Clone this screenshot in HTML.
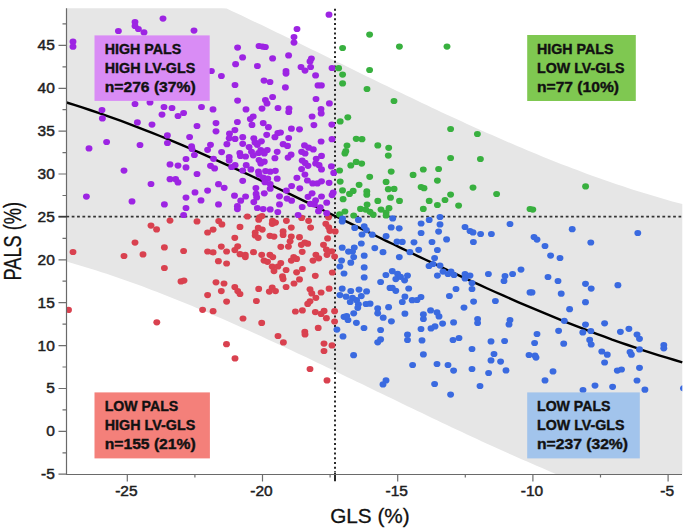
<!DOCTYPE html>
<html><head><meta charset="utf-8"><style>
html,body{margin:0;padding:0;background:#fff;}
svg{display:block;}
text{font-family:"Liberation Sans",sans-serif;}
</style></head><body>
<svg width="685" height="530" viewBox="0 0 685 530">
<defs><clipPath id="pa"><rect x="66.5" y="8.2" width="615.8" height="466.3"/></clipPath></defs>
<rect width="685" height="530" fill="#fff"/>
<polygon points="66.5,8.2 71.5,8.2 76.5,8.2 81.5,8.2 86.5,8.2 91.5,8.2 96.5,8.2 101.5,8.2 106.6,8.2 111.6,8.2 116.6,8.2 121.6,8.2 126.6,8.2 131.6,8.2 136.6,8.2 141.6,8.2 146.6,8.2 151.6,8.2 156.6,8.2 161.6,8.2 166.6,8.2 171.6,8.2 176.6,8.2 181.6,8.2 186.7,8.2 191.7,8.2 196.7,8.2 201.7,8.2 206.7,8.2 211.7,8.2 216.7,8.2 221.7,8.2 226.7,8.6 231.7,10.9 236.7,13.3 241.7,15.6 246.7,18.0 251.7,20.4 256.7,22.8 261.8,25.1 266.8,27.5 271.8,29.9 276.8,32.4 281.8,34.8 286.8,37.2 291.8,39.6 296.8,42.1 301.8,44.5 306.8,47.0 311.8,49.4 316.8,51.8 321.8,54.3 326.8,56.7 331.8,59.2 336.9,61.7 341.9,64.1 346.9,66.6 351.9,69.0 356.9,71.5 361.9,73.9 366.9,76.4 371.9,78.8 376.9,81.2 381.9,83.7 386.9,86.1 391.9,88.5 396.9,90.9 401.9,93.3 406.9,95.8 411.9,98.1 417.0,100.5 422.0,102.9 427.0,105.3 432.0,107.7 437.0,110.0 442.0,112.4 447.0,114.7 452.0,117.0 457.0,119.3 462.0,121.6 467.0,123.9 472.0,126.2 477.0,128.4 482.0,130.7 487.0,132.9 492.1,135.1 497.1,137.3 502.1,139.5 507.1,141.7 512.1,143.8 517.1,146.0 522.1,148.1 527.1,150.2 532.1,152.3 537.1,154.3 542.1,156.4 547.1,158.4 552.1,160.4 557.1,162.4 562.1,164.4 567.2,166.3 572.2,168.2 577.2,170.1 582.2,172.0 587.2,173.9 592.2,175.7 597.2,177.5 602.2,179.3 607.2,181.0 612.2,182.8 617.2,184.5 622.2,186.1 627.2,187.8 632.2,189.4 637.2,191.0 642.2,192.6 647.3,194.1 652.3,195.6 657.3,197.1 662.3,198.6 667.3,200.0 672.3,201.4 677.3,202.8 682.3,204.1 682.3,474.5 677.3,474.5 672.3,474.5 667.3,474.5 662.3,474.5 657.3,474.5 652.3,474.5 647.3,474.5 642.2,474.5 637.2,474.5 632.2,474.5 627.2,474.5 622.2,474.5 617.2,474.5 612.2,474.5 607.2,474.5 602.2,474.5 597.2,474.5 592.2,474.5 587.2,474.5 582.2,474.5 577.2,474.5 572.2,474.5 567.2,474.5 562.1,474.5 557.1,474.5 552.1,472.4 547.1,470.3 542.1,468.1 537.1,466.0 532.1,463.8 527.1,461.6 522.1,459.4 517.1,457.2 512.1,455.0 507.1,452.8 502.1,450.5 497.1,448.3 492.1,446.0 487.0,443.7 482.0,441.4 477.0,439.1 472.0,436.8 467.0,434.4 462.0,432.1 457.0,429.7 452.0,427.4 447.0,425.0 442.0,422.7 437.0,420.3 432.0,417.9 427.0,415.5 422.0,413.1 417.0,410.7 411.9,408.3 406.9,405.9 401.9,403.5 396.9,401.1 391.9,398.6 386.9,396.2 381.9,393.8 376.9,391.4 371.9,389.0 366.9,386.5 361.9,384.1 356.9,381.7 351.9,379.3 346.9,376.9 341.9,374.4 336.9,372.0 331.8,369.6 326.8,367.2 321.8,364.8 316.8,362.4 311.8,360.0 306.8,357.6 301.8,355.3 296.8,352.9 291.8,350.5 286.8,348.2 281.8,345.8 276.8,343.5 271.8,341.2 266.8,338.9 261.8,336.6 256.7,334.3 251.7,332.0 246.7,329.7 241.7,327.5 236.7,325.2 231.7,323.0 226.7,320.8 221.7,318.6 216.7,316.4 211.7,314.3 206.7,312.1 201.7,310.0 196.7,307.9 191.7,305.8 186.7,303.7 181.6,301.7 176.6,299.7 171.6,297.7 166.6,295.7 161.6,293.7 156.6,291.8 151.6,289.9 146.6,288.0 141.6,286.1 136.6,284.3 131.6,282.5 126.6,280.7 121.6,278.9 116.6,277.2 111.6,275.5 106.6,273.8 101.5,272.2 96.5,270.6 91.5,269.0 86.5,267.4 81.5,265.9 76.5,264.4 71.5,263.0 66.5,261.6" fill="#e6e6e6"/>
<path d="M71.7 216.6H682" stroke="#333" stroke-width="1.6" stroke-dasharray="2.75 2.62"/>
<path d="M335 8.8V472" stroke="#2a2a2a" stroke-width="2" stroke-dasharray="2 2.72"/><path d="M335 472.5V481.3" stroke="#2a2a2a" stroke-width="2"/>
<polyline points="66.5,102.5 74.3,104.9 82.1,107.4 89.9,110.0 97.7,112.6 105.5,115.3 113.3,118.1 121.1,120.9 128.9,123.8 136.7,126.8 144.4,129.8 152.2,132.9 160.0,136.0 167.8,139.2 175.6,142.4 183.4,145.7 191.2,149.0 199.0,152.4 206.8,155.8 214.6,159.3 222.4,162.8 230.2,166.3 238.0,169.8 245.8,173.4 253.6,177.0 261.4,180.7 269.2,184.3 277.0,188.0 284.8,191.7 292.6,195.4 300.3,199.2 308.1,202.9 315.9,206.7 323.7,210.5 331.5,214.3 339.3,218.0 347.1,221.8 354.9,225.6 362.7,229.4 370.5,233.2 378.3,237.0 386.1,240.8 393.9,244.5 401.7,248.3 409.5,252.0 417.3,255.8 425.1,259.5 432.9,263.2 440.7,266.9 448.5,270.5 456.2,274.2 464.0,277.8 471.8,281.4 479.6,284.9 487.4,288.5 495.2,292.0 503.0,295.4 510.8,298.9 518.6,302.3 526.4,305.6 534.2,308.9 542.0,312.2 549.8,315.4 557.6,318.6 565.4,321.8 573.2,324.9 581.0,327.9 588.8,330.9 596.6,333.8 604.4,336.7 612.1,339.6 619.9,342.3 627.7,345.0 635.5,347.7 643.3,350.3 651.1,352.8 658.9,355.3 666.7,357.7 674.5,360.0 682.3,362.3" fill="none" stroke="#000" stroke-width="2.4"/>
<g clip-path="url(#pa)">
<g fill="#d9414f"><ellipse cx="247.4" cy="216.5" rx="3.45" ry="3.1"/><ellipse cx="259.6" cy="217.3" rx="3.45" ry="3.1"/><ellipse cx="262.0" cy="216.1" rx="3.45" ry="3.1"/><ellipse cx="218.7" cy="221.0" rx="3.45" ry="3.1"/><ellipse cx="272.5" cy="220.8" rx="3.45" ry="3.1"/><ellipse cx="301.6" cy="217.9" rx="3.45" ry="3.1"/><ellipse cx="328.5" cy="217.3" rx="3.45" ry="3.1"/><ellipse cx="286.4" cy="220.8" rx="3.45" ry="3.1"/><ellipse cx="308.6" cy="220.8" rx="3.45" ry="3.1"/><ellipse cx="170.0" cy="220.6" rx="3.45" ry="3.1"/><ellipse cx="197.0" cy="221.4" rx="3.45" ry="3.1"/><ellipse cx="151.0" cy="225.6" rx="3.45" ry="3.1"/><ellipse cx="156.6" cy="229.4" rx="3.45" ry="3.1"/><ellipse cx="135.0" cy="242.6" rx="3.45" ry="3.1"/><ellipse cx="164.4" cy="247.4" rx="3.45" ry="3.1"/><ellipse cx="183.6" cy="251.0" rx="3.45" ry="3.1"/><ellipse cx="73.0" cy="252.0" rx="3.45" ry="3.1"/><ellipse cx="124.0" cy="256.0" rx="3.45" ry="3.1"/><ellipse cx="143.0" cy="254.4" rx="3.45" ry="3.1"/><ellipse cx="164.4" cy="268.0" rx="3.45" ry="3.1"/><ellipse cx="181.0" cy="281.4" rx="3.45" ry="3.1"/><ellipse cx="184.0" cy="280.6" rx="3.45" ry="3.1"/><ellipse cx="258.7" cy="219.7" rx="3.45" ry="3.1"/><ellipse cx="221.9" cy="224.4" rx="3.45" ry="3.1"/><ellipse cx="213.1" cy="229.6" rx="3.45" ry="3.1"/><ellipse cx="207.6" cy="232.5" rx="3.45" ry="3.1"/><ellipse cx="240.0" cy="226.9" rx="3.45" ry="3.1"/><ellipse cx="258.2" cy="227.9" rx="3.45" ry="3.1"/><ellipse cx="262.3" cy="229.6" rx="3.45" ry="3.1"/><ellipse cx="255.2" cy="232.5" rx="3.45" ry="3.1"/><ellipse cx="255.2" cy="235.5" rx="3.45" ry="3.1"/><ellipse cx="258.2" cy="237.8" rx="3.45" ry="3.1"/><ellipse cx="272.2" cy="223.8" rx="3.45" ry="3.1"/><ellipse cx="269.9" cy="235.8" rx="3.45" ry="3.1"/><ellipse cx="274.0" cy="236.6" rx="3.45" ry="3.1"/><ellipse cx="234.8" cy="237.8" rx="3.45" ry="3.1"/><ellipse cx="221.3" cy="246.6" rx="3.45" ry="3.1"/><ellipse cx="237.7" cy="246.3" rx="3.45" ry="3.1"/><ellipse cx="234.8" cy="250.1" rx="3.45" ry="3.1"/><ellipse cx="207.6" cy="251.5" rx="3.45" ry="3.1"/><ellipse cx="213.1" cy="252.4" rx="3.45" ry="3.1"/><ellipse cx="226.6" cy="251.5" rx="3.45" ry="3.1"/><ellipse cx="240.0" cy="254.2" rx="3.45" ry="3.1"/><ellipse cx="245.3" cy="254.8" rx="3.45" ry="3.1"/><ellipse cx="245.3" cy="257.1" rx="3.45" ry="3.1"/><ellipse cx="253.5" cy="252.2" rx="3.45" ry="3.1"/><ellipse cx="261.7" cy="254.8" rx="3.45" ry="3.1"/><ellipse cx="269.9" cy="254.8" rx="3.45" ry="3.1"/><ellipse cx="272.8" cy="257.1" rx="3.45" ry="3.1"/><ellipse cx="264.0" cy="260.6" rx="3.45" ry="3.1"/><ellipse cx="267.5" cy="261.8" rx="3.45" ry="3.1"/><ellipse cx="218.4" cy="261.2" rx="3.45" ry="3.1"/><ellipse cx="226.6" cy="263.5" rx="3.45" ry="3.1"/><ellipse cx="272.2" cy="266.5" rx="3.45" ry="3.1"/><ellipse cx="274.0" cy="271.1" rx="3.45" ry="3.1"/><ellipse cx="275.5" cy="222.6" rx="3.45" ry="3.1"/><ellipse cx="310.6" cy="227.6" rx="3.45" ry="3.1"/><ellipse cx="291.3" cy="227.6" rx="3.45" ry="3.1"/><ellipse cx="283.1" cy="231.4" rx="3.45" ry="3.1"/><ellipse cx="283.1" cy="234.9" rx="3.45" ry="3.1"/><ellipse cx="291.3" cy="236.6" rx="3.45" ry="3.1"/><ellipse cx="299.5" cy="237.2" rx="3.45" ry="3.1"/><ellipse cx="290.1" cy="241.3" rx="3.45" ry="3.1"/><ellipse cx="288.4" cy="246.6" rx="3.45" ry="3.1"/><ellipse cx="280.8" cy="246.8" rx="3.45" ry="3.1"/><ellipse cx="301.3" cy="244.8" rx="3.45" ry="3.1"/><ellipse cx="304.8" cy="242.5" rx="3.45" ry="3.1"/><ellipse cx="307.7" cy="243.7" rx="3.45" ry="3.1"/><ellipse cx="325.8" cy="223.8" rx="3.45" ry="3.1"/><ellipse cx="328.7" cy="227.3" rx="3.45" ry="3.1"/><ellipse cx="329.9" cy="230.8" rx="3.45" ry="3.1"/><ellipse cx="335.2" cy="231.4" rx="3.45" ry="3.1"/><ellipse cx="327.6" cy="238.4" rx="3.45" ry="3.1"/><ellipse cx="323.5" cy="244.8" rx="3.45" ry="3.1"/><ellipse cx="326.4" cy="249.5" rx="3.45" ry="3.1"/><ellipse cx="331.7" cy="251.3" rx="3.45" ry="3.1"/><ellipse cx="327.0" cy="254.8" rx="3.45" ry="3.1"/><ellipse cx="334.6" cy="256.5" rx="3.45" ry="3.1"/><ellipse cx="302.2" cy="251.8" rx="3.45" ry="3.1"/><ellipse cx="315.9" cy="254.8" rx="3.45" ry="3.1"/><ellipse cx="318.8" cy="258.3" rx="3.45" ry="3.1"/><ellipse cx="313.0" cy="260.6" rx="3.45" ry="3.1"/><ellipse cx="293.7" cy="257.1" rx="3.45" ry="3.1"/><ellipse cx="296.6" cy="258.9" rx="3.45" ry="3.1"/><ellipse cx="291.3" cy="260.6" rx="3.45" ry="3.1"/><ellipse cx="280.8" cy="263.0" rx="3.45" ry="3.1"/><ellipse cx="277.9" cy="266.5" rx="3.45" ry="3.1"/><ellipse cx="286.1" cy="270.0" rx="3.45" ry="3.1"/><ellipse cx="296.6" cy="272.3" rx="3.45" ry="3.1"/><ellipse cx="302.4" cy="269.0" rx="3.45" ry="3.1"/><ellipse cx="332.3" cy="272.5" rx="3.45" ry="3.1"/><ellipse cx="315.3" cy="275.8" rx="3.45" ry="3.1"/><ellipse cx="282.5" cy="276.4" rx="3.45" ry="3.1"/><ellipse cx="216.0" cy="282.3" rx="3.45" ry="3.1"/><ellipse cx="224.0" cy="283.5" rx="3.45" ry="3.1"/><ellipse cx="221.3" cy="291.1" rx="3.45" ry="3.1"/><ellipse cx="234.8" cy="287.0" rx="3.45" ry="3.1"/><ellipse cx="237.7" cy="291.1" rx="3.45" ry="3.1"/><ellipse cx="240.0" cy="294.0" rx="3.45" ry="3.1"/><ellipse cx="207.6" cy="295.1" rx="3.45" ry="3.1"/><ellipse cx="226.6" cy="301.6" rx="3.45" ry="3.1"/><ellipse cx="258.7" cy="288.9" rx="3.45" ry="3.1"/><ellipse cx="256.4" cy="301.0" rx="3.45" ry="3.1"/><ellipse cx="272.2" cy="287.5" rx="3.45" ry="3.1"/><ellipse cx="269.3" cy="291.6" rx="3.45" ry="3.1"/><ellipse cx="202.6" cy="309.8" rx="3.45" ry="3.1"/><ellipse cx="213.1" cy="311.2" rx="3.45" ry="3.1"/><ellipse cx="243.0" cy="318.5" rx="3.45" ry="3.1"/><ellipse cx="261.7" cy="322.9" rx="3.45" ry="3.1"/><ellipse cx="283.1" cy="279.1" rx="3.45" ry="3.1"/><ellipse cx="299.5" cy="279.4" rx="3.45" ry="3.1"/><ellipse cx="294.0" cy="283.5" rx="3.45" ry="3.1"/><ellipse cx="286.1" cy="287.0" rx="3.45" ry="3.1"/><ellipse cx="275.5" cy="291.1" rx="3.45" ry="3.1"/><ellipse cx="310.0" cy="289.3" rx="3.45" ry="3.1"/><ellipse cx="311.8" cy="293.4" rx="3.45" ry="3.1"/><ellipse cx="321.1" cy="292.5" rx="3.45" ry="3.1"/><ellipse cx="329.1" cy="288.7" rx="3.45" ry="3.1"/><ellipse cx="315.9" cy="297.8" rx="3.45" ry="3.1"/><ellipse cx="310.0" cy="301.3" rx="3.45" ry="3.1"/><ellipse cx="307.7" cy="303.9" rx="3.45" ry="3.1"/><ellipse cx="295.4" cy="311.5" rx="3.45" ry="3.1"/><ellipse cx="302.4" cy="310.4" rx="3.45" ry="3.1"/><ellipse cx="315.3" cy="312.1" rx="3.45" ry="3.1"/><ellipse cx="321.1" cy="313.9" rx="3.45" ry="3.1"/><ellipse cx="324.1" cy="310.9" rx="3.45" ry="3.1"/><ellipse cx="326.4" cy="318.2" rx="3.45" ry="3.1"/><ellipse cx="334.6" cy="311.2" rx="3.45" ry="3.1"/><ellipse cx="334.6" cy="321.5" rx="3.45" ry="3.1"/><ellipse cx="318.2" cy="327.9" rx="3.45" ry="3.1"/><ellipse cx="304.8" cy="331.8" rx="3.45" ry="3.1"/><ellipse cx="305.0" cy="334.4" rx="3.45" ry="3.1"/><ellipse cx="278.0" cy="336.0" rx="3.45" ry="3.1"/><ellipse cx="283.4" cy="342.4" rx="3.45" ry="3.1"/><ellipse cx="324.0" cy="343.6" rx="3.45" ry="3.1"/><ellipse cx="332.0" cy="345.4" rx="3.45" ry="3.1"/><ellipse cx="324.0" cy="351.0" rx="3.45" ry="3.1"/><ellipse cx="235.0" cy="358.4" rx="3.45" ry="3.1"/><ellipse cx="310.0" cy="369.0" rx="3.45" ry="3.1"/><ellipse cx="327.0" cy="380.4" rx="3.45" ry="3.1"/><ellipse cx="68.5" cy="309.9" rx="3.45" ry="3.1"/><ellipse cx="156.8" cy="322.3" rx="3.45" ry="3.1"/><ellipse cx="226.5" cy="344.2" rx="3.45" ry="3.1"/></g>
<g fill="#9d24e3"><ellipse cx="73.0" cy="41.7" rx="3.45" ry="3.1"/><ellipse cx="73.0" cy="46.7" rx="3.45" ry="3.1"/><ellipse cx="118.4" cy="31.0" rx="3.45" ry="3.1"/><ellipse cx="135.0" cy="22.0" rx="3.45" ry="3.1"/><ellipse cx="135.0" cy="26.0" rx="3.45" ry="3.1"/><ellipse cx="138.4" cy="29.0" rx="3.45" ry="3.1"/><ellipse cx="144.0" cy="32.4" rx="3.45" ry="3.1"/><ellipse cx="163.0" cy="18.6" rx="3.45" ry="3.1"/><ellipse cx="194.0" cy="30.6" rx="3.45" ry="3.1"/><ellipse cx="135.0" cy="104.0" rx="3.45" ry="3.1"/><ellipse cx="150.0" cy="102.4" rx="3.45" ry="3.1"/><ellipse cx="164.0" cy="107.0" rx="3.45" ry="3.1"/><ellipse cx="172.0" cy="108.0" rx="3.45" ry="3.1"/><ellipse cx="102.0" cy="110.0" rx="3.45" ry="3.1"/><ellipse cx="201.5" cy="107.0" rx="3.45" ry="3.1"/><ellipse cx="297.0" cy="29.0" rx="3.45" ry="3.1"/><ellipse cx="294.0" cy="37.0" rx="3.45" ry="3.1"/><ellipse cx="294.0" cy="42.6" rx="3.45" ry="3.1"/><ellipse cx="237.6" cy="47.6" rx="3.45" ry="3.1"/><ellipse cx="259.0" cy="46.0" rx="3.45" ry="3.1"/><ellipse cx="262.6" cy="46.6" rx="3.45" ry="3.1"/><ellipse cx="265.4" cy="47.0" rx="3.45" ry="3.1"/><ellipse cx="242.6" cy="57.4" rx="3.45" ry="3.1"/><ellipse cx="272.6" cy="58.4" rx="3.45" ry="3.1"/><ellipse cx="288.6" cy="55.4" rx="3.45" ry="3.1"/><ellipse cx="311.4" cy="58.6" rx="3.45" ry="3.1"/><ellipse cx="310.0" cy="61.4" rx="3.45" ry="3.1"/><ellipse cx="235.6" cy="64.2" rx="3.45" ry="3.1"/><ellipse cx="257.4" cy="66.0" rx="3.45" ry="3.1"/><ellipse cx="286.0" cy="71.0" rx="3.45" ry="3.1"/><ellipse cx="286.0" cy="73.6" rx="3.45" ry="3.1"/><ellipse cx="301.0" cy="67.0" rx="3.45" ry="3.1"/><ellipse cx="305.0" cy="70.6" rx="3.45" ry="3.1"/><ellipse cx="310.6" cy="67.0" rx="3.45" ry="3.1"/><ellipse cx="315.6" cy="75.4" rx="3.45" ry="3.1"/><ellipse cx="211.4" cy="71.0" rx="3.45" ry="3.1"/><ellipse cx="221.4" cy="76.0" rx="3.45" ry="3.1"/><ellipse cx="235.0" cy="85.0" rx="3.45" ry="3.1"/><ellipse cx="264.0" cy="80.6" rx="3.45" ry="3.1"/><ellipse cx="270.0" cy="82.0" rx="3.45" ry="3.1"/><ellipse cx="285.4" cy="87.4" rx="3.45" ry="3.1"/><ellipse cx="318.0" cy="85.4" rx="3.45" ry="3.1"/><ellipse cx="321.4" cy="85.4" rx="3.45" ry="3.1"/><ellipse cx="237.6" cy="100.6" rx="3.45" ry="3.1"/><ellipse cx="272.6" cy="97.0" rx="3.45" ry="3.1"/><ellipse cx="265.4" cy="100.0" rx="3.45" ry="3.1"/><ellipse cx="267.0" cy="103.4" rx="3.45" ry="3.1"/><ellipse cx="316.0" cy="99.0" rx="3.45" ry="3.1"/><ellipse cx="213.0" cy="109.4" rx="3.45" ry="3.1"/><ellipse cx="246.0" cy="109.4" rx="3.45" ry="3.1"/><ellipse cx="262.0" cy="108.6" rx="3.45" ry="3.1"/><ellipse cx="278.0" cy="108.0" rx="3.45" ry="3.1"/><ellipse cx="289.0" cy="108.6" rx="3.45" ry="3.1"/><ellipse cx="321.0" cy="109.0" rx="3.45" ry="3.1"/><ellipse cx="329.0" cy="14.7" rx="3.45" ry="3.1"/><ellipse cx="332.0" cy="68.0" rx="3.45" ry="3.1"/><ellipse cx="329.4" cy="103.4" rx="3.45" ry="3.1"/><ellipse cx="102.4" cy="118.4" rx="3.45" ry="3.1"/><ellipse cx="162.0" cy="114.6" rx="3.45" ry="3.1"/><ellipse cx="178.0" cy="116.0" rx="3.45" ry="3.1"/><ellipse cx="183.6" cy="113.0" rx="3.45" ry="3.1"/><ellipse cx="137.4" cy="122.4" rx="3.45" ry="3.1"/><ellipse cx="152.0" cy="124.6" rx="3.45" ry="3.1"/><ellipse cx="197.0" cy="126.0" rx="3.45" ry="3.1"/><ellipse cx="167.4" cy="135.4" rx="3.45" ry="3.1"/><ellipse cx="189.6" cy="137.0" rx="3.45" ry="3.1"/><ellipse cx="106.6" cy="142.0" rx="3.45" ry="3.1"/><ellipse cx="89.0" cy="148.4" rx="3.45" ry="3.1"/><ellipse cx="140.0" cy="145.0" rx="3.45" ry="3.1"/><ellipse cx="167.4" cy="143.0" rx="3.45" ry="3.1"/><ellipse cx="191.6" cy="146.4" rx="3.45" ry="3.1"/><ellipse cx="192.0" cy="149.0" rx="3.45" ry="3.1"/><ellipse cx="194.4" cy="155.0" rx="3.45" ry="3.1"/><ellipse cx="186.0" cy="159.0" rx="3.45" ry="3.1"/><ellipse cx="170.0" cy="164.4" rx="3.45" ry="3.1"/><ellipse cx="178.0" cy="165.6" rx="3.45" ry="3.1"/><ellipse cx="186.0" cy="167.4" rx="3.45" ry="3.1"/><ellipse cx="124.0" cy="170.6" rx="3.45" ry="3.1"/><ellipse cx="197.0" cy="174.0" rx="3.45" ry="3.1"/><ellipse cx="170.0" cy="179.2" rx="3.45" ry="3.1"/><ellipse cx="175.6" cy="179.2" rx="3.45" ry="3.1"/><ellipse cx="178.0" cy="182.4" rx="3.45" ry="3.1"/><ellipse cx="151.0" cy="184.0" rx="3.45" ry="3.1"/><ellipse cx="195.0" cy="192.4" rx="3.45" ry="3.1"/><ellipse cx="86.4" cy="196.6" rx="3.45" ry="3.1"/><ellipse cx="186.0" cy="197.6" rx="3.45" ry="3.1"/><ellipse cx="132.0" cy="201.4" rx="3.45" ry="3.1"/><ellipse cx="164.4" cy="204.4" rx="3.45" ry="3.1"/><ellipse cx="201.0" cy="200.4" rx="3.45" ry="3.1"/><ellipse cx="253.2" cy="116.5" rx="3.45" ry="3.1"/><ellipse cx="250.3" cy="119.0" rx="3.45" ry="3.1"/><ellipse cx="252.0" cy="124.9" rx="3.45" ry="3.1"/><ellipse cx="237.4" cy="122.0" rx="3.45" ry="3.1"/><ellipse cx="216.0" cy="123.1" rx="3.45" ry="3.1"/><ellipse cx="216.0" cy="131.3" rx="3.45" ry="3.1"/><ellipse cx="263.2" cy="123.1" rx="3.45" ry="3.1"/><ellipse cx="268.4" cy="127.2" rx="3.45" ry="3.1"/><ellipse cx="266.7" cy="134.8" rx="3.45" ry="3.1"/><ellipse cx="234.9" cy="130.1" rx="3.45" ry="3.1"/><ellipse cx="229.5" cy="133.7" rx="3.45" ry="3.1"/><ellipse cx="229.2" cy="138.3" rx="3.45" ry="3.1"/><ellipse cx="235.1" cy="138.9" rx="3.45" ry="3.1"/><ellipse cx="242.7" cy="137.2" rx="3.45" ry="3.1"/><ellipse cx="242.7" cy="143.8" rx="3.45" ry="3.1"/><ellipse cx="253.8" cy="138.3" rx="3.45" ry="3.1"/><ellipse cx="255.0" cy="142.4" rx="3.45" ry="3.1"/><ellipse cx="257.3" cy="144.8" rx="3.45" ry="3.1"/><ellipse cx="261.4" cy="141.3" rx="3.45" ry="3.1"/><ellipse cx="274.9" cy="137.2" rx="3.45" ry="3.1"/><ellipse cx="277.8" cy="133.1" rx="3.45" ry="3.1"/><ellipse cx="226.9" cy="144.2" rx="3.45" ry="3.1"/><ellipse cx="210.5" cy="144.8" rx="3.45" ry="3.1"/><ellipse cx="207.6" cy="149.8" rx="3.45" ry="3.1"/><ellipse cx="221.6" cy="152.1" rx="3.45" ry="3.1"/><ellipse cx="239.8" cy="153.0" rx="3.45" ry="3.1"/><ellipse cx="240.4" cy="155.9" rx="3.45" ry="3.1"/><ellipse cx="245.6" cy="156.5" rx="3.45" ry="3.1"/><ellipse cx="249.1" cy="147.1" rx="3.45" ry="3.1"/><ellipse cx="251.5" cy="151.8" rx="3.45" ry="3.1"/><ellipse cx="253.2" cy="155.3" rx="3.45" ry="3.1"/><ellipse cx="260.8" cy="150.0" rx="3.45" ry="3.1"/><ellipse cx="267.3" cy="150.0" rx="3.45" ry="3.1"/><ellipse cx="264.3" cy="153.5" rx="3.45" ry="3.1"/><ellipse cx="258.5" cy="153.0" rx="3.45" ry="3.1"/><ellipse cx="277.2" cy="151.8" rx="3.45" ry="3.1"/><ellipse cx="274.9" cy="158.2" rx="3.45" ry="3.1"/><ellipse cx="229.2" cy="157.0" rx="3.45" ry="3.1"/><ellipse cx="229.2" cy="160.6" rx="3.45" ry="3.1"/><ellipse cx="213.5" cy="158.8" rx="3.45" ry="3.1"/><ellipse cx="259.0" cy="160.0" rx="3.45" ry="3.1"/><ellipse cx="264.3" cy="161.7" rx="3.45" ry="3.1"/><ellipse cx="260.8" cy="163.5" rx="3.45" ry="3.1"/><ellipse cx="210.5" cy="165.8" rx="3.45" ry="3.1"/><ellipse cx="235.1" cy="165.2" rx="3.45" ry="3.1"/><ellipse cx="246.2" cy="165.2" rx="3.45" ry="3.1"/><ellipse cx="288.7" cy="112.0" rx="3.45" ry="3.1"/><ellipse cx="321.2" cy="113.4" rx="3.45" ry="3.1"/><ellipse cx="312.1" cy="116.5" rx="3.45" ry="3.1"/><ellipse cx="313.9" cy="125.1" rx="3.45" ry="3.1"/><ellipse cx="331.8" cy="124.6" rx="3.45" ry="3.1"/><ellipse cx="291.4" cy="128.7" rx="3.45" ry="3.1"/><ellipse cx="299.5" cy="129.3" rx="3.45" ry="3.1"/><ellipse cx="280.5" cy="132.5" rx="3.45" ry="3.1"/><ellipse cx="288.7" cy="138.0" rx="3.45" ry="3.1"/><ellipse cx="332.0" cy="139.2" rx="3.45" ry="3.1"/><ellipse cx="321.1" cy="141.5" rx="3.45" ry="3.1"/><ellipse cx="283.1" cy="144.2" rx="3.45" ry="3.1"/><ellipse cx="287.5" cy="145.9" rx="3.45" ry="3.1"/><ellipse cx="291.1" cy="154.7" rx="3.45" ry="3.1"/><ellipse cx="288.1" cy="157.6" rx="3.45" ry="3.1"/><ellipse cx="304.5" cy="145.4" rx="3.45" ry="3.1"/><ellipse cx="308.6" cy="147.7" rx="3.45" ry="3.1"/><ellipse cx="313.3" cy="149.4" rx="3.45" ry="3.1"/><ellipse cx="301.6" cy="151.8" rx="3.45" ry="3.1"/><ellipse cx="305.1" cy="153.5" rx="3.45" ry="3.1"/><ellipse cx="321.5" cy="155.9" rx="3.45" ry="3.1"/><ellipse cx="316.2" cy="158.8" rx="3.45" ry="3.1"/><ellipse cx="302.2" cy="160.6" rx="3.45" ry="3.1"/><ellipse cx="305.1" cy="162.9" rx="3.45" ry="3.1"/><ellipse cx="315.6" cy="163.5" rx="3.45" ry="3.1"/><ellipse cx="319.1" cy="165.2" rx="3.45" ry="3.1"/><ellipse cx="331.4" cy="166.4" rx="3.45" ry="3.1"/><ellipse cx="214.6" cy="168.4" rx="3.45" ry="3.1"/><ellipse cx="231.6" cy="167.0" rx="3.45" ry="3.1"/><ellipse cx="242.7" cy="170.5" rx="3.45" ry="3.1"/><ellipse cx="250.9" cy="169.4" rx="3.45" ry="3.1"/><ellipse cx="258.5" cy="171.7" rx="3.45" ry="3.1"/><ellipse cx="259.0" cy="174.6" rx="3.45" ry="3.1"/><ellipse cx="265.5" cy="171.1" rx="3.45" ry="3.1"/><ellipse cx="270.2" cy="171.7" rx="3.45" ry="3.1"/><ellipse cx="275.4" cy="170.8" rx="3.45" ry="3.1"/><ellipse cx="277.2" cy="178.7" rx="3.45" ry="3.1"/><ellipse cx="263.2" cy="177.5" rx="3.45" ry="3.1"/><ellipse cx="267.8" cy="178.7" rx="3.45" ry="3.1"/><ellipse cx="264.9" cy="182.2" rx="3.45" ry="3.1"/><ellipse cx="270.2" cy="184.0" rx="3.45" ry="3.1"/><ellipse cx="270.2" cy="188.7" rx="3.45" ry="3.1"/><ellipse cx="242.7" cy="180.8" rx="3.45" ry="3.1"/><ellipse cx="218.5" cy="184.2" rx="3.45" ry="3.1"/><ellipse cx="224.2" cy="187.8" rx="3.45" ry="3.1"/><ellipse cx="207.6" cy="190.6" rx="3.45" ry="3.1"/><ellipse cx="255.9" cy="188.1" rx="3.45" ry="3.1"/><ellipse cx="264.3" cy="193.3" rx="3.45" ry="3.1"/><ellipse cx="256.1" cy="193.9" rx="3.45" ry="3.1"/><ellipse cx="256.7" cy="197.4" rx="3.45" ry="3.1"/><ellipse cx="234.5" cy="195.7" rx="3.45" ry="3.1"/><ellipse cx="245.6" cy="196.5" rx="3.45" ry="3.1"/><ellipse cx="240.7" cy="200.7" rx="3.45" ry="3.1"/><ellipse cx="253.8" cy="202.1" rx="3.45" ry="3.1"/><ellipse cx="218.5" cy="204.4" rx="3.45" ry="3.1"/><ellipse cx="237.4" cy="206.2" rx="3.45" ry="3.1"/><ellipse cx="237.4" cy="209.1" rx="3.45" ry="3.1"/><ellipse cx="257.3" cy="208.0" rx="3.45" ry="3.1"/><ellipse cx="263.2" cy="209.1" rx="3.45" ry="3.1"/><ellipse cx="270.2" cy="209.4" rx="3.45" ry="3.1"/><ellipse cx="277.8" cy="212.0" rx="3.45" ry="3.1"/><ellipse cx="279.5" cy="196.3" rx="3.45" ry="3.1"/><ellipse cx="279.5" cy="204.4" rx="3.45" ry="3.1"/><ellipse cx="308.0" cy="165.8" rx="3.45" ry="3.1"/><ellipse cx="301.6" cy="169.1" rx="3.45" ry="3.1"/><ellipse cx="321.5" cy="169.4" rx="3.45" ry="3.1"/><ellipse cx="333.7" cy="172.9" rx="3.45" ry="3.1"/><ellipse cx="296.9" cy="177.8" rx="3.45" ry="3.1"/><ellipse cx="304.9" cy="174.6" rx="3.45" ry="3.1"/><ellipse cx="307.4" cy="180.5" rx="3.45" ry="3.1"/><ellipse cx="312.7" cy="183.4" rx="3.45" ry="3.1"/><ellipse cx="317.4" cy="183.4" rx="3.45" ry="3.1"/><ellipse cx="321.5" cy="181.3" rx="3.45" ry="3.1"/><ellipse cx="329.1" cy="182.8" rx="3.45" ry="3.1"/><ellipse cx="291.6" cy="186.0" rx="3.45" ry="3.1"/><ellipse cx="299.8" cy="188.3" rx="3.45" ry="3.1"/><ellipse cx="286.4" cy="190.6" rx="3.45" ry="3.1"/><ellipse cx="287.0" cy="198.6" rx="3.45" ry="3.1"/><ellipse cx="291.6" cy="200.7" rx="3.45" ry="3.1"/><ellipse cx="312.1" cy="193.3" rx="3.45" ry="3.1"/><ellipse cx="308.0" cy="196.8" rx="3.45" ry="3.1"/><ellipse cx="321.5" cy="196.5" rx="3.45" ry="3.1"/><ellipse cx="333.2" cy="192.7" rx="3.45" ry="3.1"/><ellipse cx="332.0" cy="195.1" rx="3.45" ry="3.1"/><ellipse cx="315.6" cy="200.4" rx="3.45" ry="3.1"/><ellipse cx="310.4" cy="203.9" rx="3.45" ry="3.1"/><ellipse cx="314.4" cy="204.4" rx="3.45" ry="3.1"/><ellipse cx="326.7" cy="202.7" rx="3.45" ry="3.1"/><ellipse cx="302.2" cy="207.0" rx="3.45" ry="3.1"/><ellipse cx="320.3" cy="207.4" rx="3.45" ry="3.1"/><ellipse cx="318.5" cy="211.2" rx="3.45" ry="3.1"/><ellipse cx="298.1" cy="215.0" rx="3.45" ry="3.1"/><ellipse cx="326.7" cy="213.2" rx="3.45" ry="3.1"/><ellipse cx="186.0" cy="208.0" rx="3.45" ry="3.1"/><ellipse cx="183.6" cy="215.0" rx="3.45" ry="3.1"/></g>
<g fill="#38b03f"><ellipse cx="369.6" cy="34.6" rx="3.45" ry="3.1"/><ellipse cx="342.6" cy="48.0" rx="3.45" ry="3.1"/><ellipse cx="399.4" cy="46.6" rx="3.45" ry="3.1"/><ellipse cx="447.0" cy="46.6" rx="3.45" ry="3.1"/><ellipse cx="338.6" cy="68.2" rx="3.45" ry="3.1"/><ellipse cx="369.6" cy="70.0" rx="3.45" ry="3.1"/><ellipse cx="342.6" cy="74.6" rx="3.45" ry="3.1"/><ellipse cx="342.6" cy="83.4" rx="3.45" ry="3.1"/><ellipse cx="367.0" cy="89.0" rx="3.45" ry="3.1"/><ellipse cx="394.0" cy="101.0" rx="3.45" ry="3.1"/><ellipse cx="340.2" cy="121.4" rx="3.45" ry="3.1"/><ellipse cx="347.8" cy="117.3" rx="3.45" ry="3.1"/><ellipse cx="347.0" cy="145.5" rx="3.45" ry="3.1"/><ellipse cx="345.8" cy="151.2" rx="3.45" ry="3.1"/><ellipse cx="339.6" cy="170.5" rx="3.45" ry="3.1"/><ellipse cx="340.2" cy="181.6" rx="3.45" ry="3.1"/><ellipse cx="342.5" cy="190.4" rx="3.45" ry="3.1"/><ellipse cx="343.1" cy="199.2" rx="3.45" ry="3.1"/><ellipse cx="349.5" cy="193.9" rx="3.45" ry="3.1"/><ellipse cx="344.9" cy="211.5" rx="3.45" ry="3.1"/><ellipse cx="339.6" cy="214.4" rx="3.45" ry="3.1"/><ellipse cx="356.2" cy="138.8" rx="3.45" ry="3.1"/><ellipse cx="362.0" cy="139.2" rx="3.45" ry="3.1"/><ellipse cx="344.9" cy="153.4" rx="3.45" ry="3.1"/><ellipse cx="377.8" cy="145.4" rx="3.45" ry="3.1"/><ellipse cx="388.7" cy="147.8" rx="3.45" ry="3.1"/><ellipse cx="388.3" cy="155.6" rx="3.45" ry="3.1"/><ellipse cx="356.2" cy="161.9" rx="3.45" ry="3.1"/><ellipse cx="350.8" cy="165.4" rx="3.45" ry="3.1"/><ellipse cx="361.7" cy="163.6" rx="3.45" ry="3.1"/><ellipse cx="391.2" cy="171.6" rx="3.45" ry="3.1"/><ellipse cx="423.3" cy="169.5" rx="3.45" ry="3.1"/><ellipse cx="369.7" cy="176.8" rx="3.45" ry="3.1"/><ellipse cx="413.1" cy="174.9" rx="3.45" ry="3.1"/><ellipse cx="359.1" cy="184.8" rx="3.45" ry="3.1"/><ellipse cx="386.1" cy="181.9" rx="3.45" ry="3.1"/><ellipse cx="388.3" cy="189.2" rx="3.45" ry="3.1"/><ellipse cx="394.1" cy="188.9" rx="3.45" ry="3.1"/><ellipse cx="421.1" cy="187.0" rx="3.45" ry="3.1"/><ellipse cx="424.0" cy="188.2" rx="3.45" ry="3.1"/><ellipse cx="353.2" cy="190.9" rx="3.45" ry="3.1"/><ellipse cx="366.8" cy="191.4" rx="3.45" ry="3.1"/><ellipse cx="366.8" cy="194.7" rx="3.45" ry="3.1"/><ellipse cx="390.5" cy="197.7" rx="3.45" ry="3.1"/><ellipse cx="377.8" cy="200.9" rx="3.45" ry="3.1"/><ellipse cx="399.5" cy="200.9" rx="3.45" ry="3.1"/><ellipse cx="429.2" cy="200.9" rx="3.45" ry="3.1"/><ellipse cx="367.1" cy="204.5" rx="3.45" ry="3.1"/><ellipse cx="360.5" cy="208.9" rx="3.45" ry="3.1"/><ellipse cx="365.7" cy="209.6" rx="3.45" ry="3.1"/><ellipse cx="370.0" cy="211.8" rx="3.45" ry="3.1"/><ellipse cx="373.2" cy="214.7" rx="3.45" ry="3.1"/><ellipse cx="381.0" cy="209.6" rx="3.45" ry="3.1"/><ellipse cx="389.0" cy="208.2" rx="3.45" ry="3.1"/><ellipse cx="386.1" cy="212.6" rx="3.45" ry="3.1"/><ellipse cx="386.1" cy="215.5" rx="3.45" ry="3.1"/><ellipse cx="353.7" cy="215.5" rx="3.45" ry="3.1"/><ellipse cx="423.3" cy="208.9" rx="3.45" ry="3.1"/><ellipse cx="450.6" cy="129.0" rx="3.45" ry="3.1"/><ellipse cx="477.4" cy="134.0" rx="3.45" ry="3.1"/><ellipse cx="450.6" cy="158.0" rx="3.45" ry="3.1"/><ellipse cx="480.4" cy="159.0" rx="3.45" ry="3.1"/><ellipse cx="438.6" cy="169.0" rx="3.45" ry="3.1"/><ellipse cx="437.4" cy="180.6" rx="3.45" ry="3.1"/><ellipse cx="473.0" cy="187.6" rx="3.45" ry="3.1"/><ellipse cx="450.6" cy="194.6" rx="3.45" ry="3.1"/><ellipse cx="496.6" cy="194.0" rx="3.45" ry="3.1"/><ellipse cx="445.0" cy="200.0" rx="3.45" ry="3.1"/><ellipse cx="437.4" cy="205.0" rx="3.45" ry="3.1"/><ellipse cx="458.6" cy="205.6" rx="3.45" ry="3.1"/><ellipse cx="530.0" cy="209.0" rx="3.45" ry="3.1"/><ellipse cx="585.6" cy="186.4" rx="3.45" ry="3.1"/><ellipse cx="532.8" cy="209.6" rx="3.45" ry="3.1"/></g>
<g fill="#3a6ae0"><ellipse cx="342.5" cy="218.5" rx="3.45" ry="3.1"/><ellipse cx="342.2" cy="221.4" rx="3.45" ry="3.1"/><ellipse cx="342.2" cy="247.7" rx="3.45" ry="3.1"/><ellipse cx="341.6" cy="260.6" rx="3.45" ry="3.1"/><ellipse cx="339.9" cy="266.5" rx="3.45" ry="3.1"/><ellipse cx="344.0" cy="273.5" rx="3.45" ry="3.1"/><ellipse cx="342.2" cy="288.7" rx="3.45" ry="3.1"/><ellipse cx="339.9" cy="295.1" rx="3.45" ry="3.1"/><ellipse cx="344.0" cy="316.8" rx="3.45" ry="3.1"/><ellipse cx="336.9" cy="329.6" rx="3.45" ry="3.1"/><ellipse cx="348.0" cy="320.0" rx="3.45" ry="3.1"/><ellipse cx="356.4" cy="322.8" rx="3.45" ry="3.1"/><ellipse cx="364.0" cy="328.0" rx="3.45" ry="3.1"/><ellipse cx="343.0" cy="336.4" rx="3.45" ry="3.1"/><ellipse cx="353.6" cy="355.2" rx="3.45" ry="3.1"/><ellipse cx="358.4" cy="219.9" rx="3.45" ry="3.1"/><ellipse cx="354.7" cy="227.9" rx="3.45" ry="3.1"/><ellipse cx="364.2" cy="226.4" rx="3.45" ry="3.1"/><ellipse cx="366.4" cy="230.1" rx="3.45" ry="3.1"/><ellipse cx="362.0" cy="234.5" rx="3.45" ry="3.1"/><ellipse cx="372.2" cy="234.7" rx="3.45" ry="3.1"/><ellipse cx="386.1" cy="236.2" rx="3.45" ry="3.1"/><ellipse cx="392.7" cy="218.4" rx="3.45" ry="3.1"/><ellipse cx="391.2" cy="227.4" rx="3.45" ry="3.1"/><ellipse cx="399.2" cy="228.3" rx="3.45" ry="3.1"/><ellipse cx="421.1" cy="223.5" rx="3.45" ry="3.1"/><ellipse cx="429.2" cy="219.9" rx="3.45" ry="3.1"/><ellipse cx="421.1" cy="233.0" rx="3.45" ry="3.1"/><ellipse cx="440.0" cy="217.0" rx="3.45" ry="3.1"/><ellipse cx="440.0" cy="224.4" rx="3.45" ry="3.1"/><ellipse cx="438.6" cy="231.6" rx="3.45" ry="3.1"/><ellipse cx="432.0" cy="242.0" rx="3.45" ry="3.1"/><ellipse cx="446.6" cy="239.4" rx="3.45" ry="3.1"/><ellipse cx="437.4" cy="250.0" rx="3.45" ry="3.1"/><ellipse cx="434.6" cy="258.0" rx="3.45" ry="3.1"/><ellipse cx="429.0" cy="266.0" rx="3.45" ry="3.1"/><ellipse cx="433.0" cy="264.0" rx="3.45" ry="3.1"/><ellipse cx="440.0" cy="265.6" rx="3.45" ry="3.1"/><ellipse cx="437.4" cy="275.6" rx="3.45" ry="3.1"/><ellipse cx="443.0" cy="271.6" rx="3.45" ry="3.1"/><ellipse cx="448.0" cy="274.0" rx="3.45" ry="3.1"/><ellipse cx="451.0" cy="271.6" rx="3.45" ry="3.1"/><ellipse cx="454.0" cy="275.0" rx="3.45" ry="3.1"/><ellipse cx="465.0" cy="227.0" rx="3.45" ry="3.1"/><ellipse cx="470.0" cy="231.0" rx="3.45" ry="3.1"/><ellipse cx="473.0" cy="232.4" rx="3.45" ry="3.1"/><ellipse cx="480.6" cy="234.0" rx="3.45" ry="3.1"/><ellipse cx="491.4" cy="234.0" rx="3.45" ry="3.1"/><ellipse cx="473.4" cy="242.0" rx="3.45" ry="3.1"/><ellipse cx="510.0" cy="224.0" rx="3.45" ry="3.1"/><ellipse cx="534.0" cy="237.0" rx="3.45" ry="3.1"/><ellipse cx="537.0" cy="239.6" rx="3.45" ry="3.1"/><ellipse cx="545.0" cy="246.0" rx="3.45" ry="3.1"/><ellipse cx="550.6" cy="255.6" rx="3.45" ry="3.1"/><ellipse cx="560.0" cy="258.0" rx="3.45" ry="3.1"/><ellipse cx="521.0" cy="269.6" rx="3.45" ry="3.1"/><ellipse cx="512.6" cy="274.0" rx="3.45" ry="3.1"/><ellipse cx="505.0" cy="276.0" rx="3.45" ry="3.1"/><ellipse cx="504.0" cy="281.0" rx="3.45" ry="3.1"/><ellipse cx="488.4" cy="274.0" rx="3.45" ry="3.1"/><ellipse cx="465.0" cy="274.0" rx="3.45" ry="3.1"/><ellipse cx="470.0" cy="275.6" rx="3.45" ry="3.1"/><ellipse cx="465.0" cy="278.4" rx="3.45" ry="3.1"/><ellipse cx="472.0" cy="283.0" rx="3.45" ry="3.1"/><ellipse cx="548.0" cy="277.0" rx="3.45" ry="3.1"/><ellipse cx="558.0" cy="281.0" rx="3.45" ry="3.1"/><ellipse cx="397.0" cy="241.7" rx="3.45" ry="3.1"/><ellipse cx="402.3" cy="241.9" rx="3.45" ry="3.1"/><ellipse cx="414.0" cy="242.3" rx="3.45" ry="3.1"/><ellipse cx="361.3" cy="243.5" rx="3.45" ry="3.1"/><ellipse cx="354.3" cy="247.5" rx="3.45" ry="3.1"/><ellipse cx="348.5" cy="251.6" rx="3.45" ry="3.1"/><ellipse cx="352.5" cy="251.6" rx="3.45" ry="3.1"/><ellipse cx="353.7" cy="257.1" rx="3.45" ry="3.1"/><ellipse cx="374.8" cy="248.1" rx="3.45" ry="3.1"/><ellipse cx="383.0" cy="252.2" rx="3.45" ry="3.1"/><ellipse cx="409.9" cy="252.2" rx="3.45" ry="3.1"/><ellipse cx="364.2" cy="255.7" rx="3.45" ry="3.1"/><ellipse cx="399.3" cy="257.1" rx="3.45" ry="3.1"/><ellipse cx="350.8" cy="262.7" rx="3.45" ry="3.1"/><ellipse cx="364.2" cy="267.4" rx="3.45" ry="3.1"/><ellipse cx="364.2" cy="277.4" rx="3.45" ry="3.1"/><ellipse cx="385.9" cy="275.0" rx="3.45" ry="3.1"/><ellipse cx="392.3" cy="271.2" rx="3.45" ry="3.1"/><ellipse cx="397.6" cy="273.9" rx="3.45" ry="3.1"/><ellipse cx="395.8" cy="279.1" rx="3.45" ry="3.1"/><ellipse cx="400.5" cy="276.8" rx="3.45" ry="3.1"/><ellipse cx="407.5" cy="275.6" rx="3.45" ry="3.1"/><ellipse cx="404.6" cy="280.3" rx="3.45" ry="3.1"/><ellipse cx="380.6" cy="282.0" rx="3.45" ry="3.1"/><ellipse cx="350.8" cy="291.0" rx="3.45" ry="3.1"/><ellipse cx="359.0" cy="289.6" rx="3.45" ry="3.1"/><ellipse cx="366.6" cy="291.4" rx="3.45" ry="3.1"/><ellipse cx="390.0" cy="287.9" rx="3.45" ry="3.1"/><ellipse cx="395.8" cy="290.8" rx="3.45" ry="3.1"/><ellipse cx="408.7" cy="288.5" rx="3.45" ry="3.1"/><ellipse cx="392.3" cy="287.9" rx="3.45" ry="3.1"/><ellipse cx="346.1" cy="296.7" rx="3.45" ry="3.1"/><ellipse cx="352.5" cy="297.9" rx="3.45" ry="3.1"/><ellipse cx="361.3" cy="296.1" rx="3.45" ry="3.1"/><ellipse cx="350.2" cy="302.0" rx="3.45" ry="3.1"/><ellipse cx="356.6" cy="300.2" rx="3.45" ry="3.1"/><ellipse cx="358.4" cy="304.3" rx="3.45" ry="3.1"/><ellipse cx="357.8" cy="307.8" rx="3.45" ry="3.1"/><ellipse cx="366.0" cy="304.0" rx="3.45" ry="3.1"/><ellipse cx="370.1" cy="303.7" rx="3.45" ry="3.1"/><ellipse cx="404.9" cy="296.7" rx="3.45" ry="3.1"/><ellipse cx="402.3" cy="302.0" rx="3.45" ry="3.1"/><ellipse cx="412.2" cy="300.2" rx="3.45" ry="3.1"/><ellipse cx="377.7" cy="308.4" rx="3.45" ry="3.1"/><ellipse cx="377.7" cy="313.3" rx="3.45" ry="3.1"/><ellipse cx="388.6" cy="307.2" rx="3.45" ry="3.1"/><ellipse cx="383.2" cy="317.7" rx="3.45" ry="3.1"/><ellipse cx="391.4" cy="321.3" rx="3.45" ry="3.1"/><ellipse cx="404.9" cy="313.7" rx="3.45" ry="3.1"/><ellipse cx="346.7" cy="316.0" rx="3.45" ry="3.1"/><ellipse cx="353.7" cy="313.3" rx="3.45" ry="3.1"/><ellipse cx="380.6" cy="330.0" rx="3.45" ry="3.1"/><ellipse cx="380.6" cy="339.4" rx="3.45" ry="3.1"/><ellipse cx="377.7" cy="342.3" rx="3.45" ry="3.1"/><ellipse cx="407.5" cy="334.7" rx="3.45" ry="3.1"/><ellipse cx="407.5" cy="340.0" rx="3.45" ry="3.1"/><ellipse cx="456.0" cy="289.0" rx="3.45" ry="3.1"/><ellipse cx="472.0" cy="289.0" rx="3.45" ry="3.1"/><ellipse cx="421.0" cy="297.0" rx="3.45" ry="3.1"/><ellipse cx="417.0" cy="300.0" rx="3.45" ry="3.1"/><ellipse cx="449.4" cy="296.0" rx="3.45" ry="3.1"/><ellipse cx="473.6" cy="301.6" rx="3.45" ry="3.1"/><ellipse cx="495.4" cy="301.0" rx="3.45" ry="3.1"/><ellipse cx="530.0" cy="292.4" rx="3.45" ry="3.1"/><ellipse cx="532.0" cy="292.4" rx="3.45" ry="3.1"/><ellipse cx="464.0" cy="307.6" rx="3.45" ry="3.1"/><ellipse cx="423.4" cy="314.4" rx="3.45" ry="3.1"/><ellipse cx="423.4" cy="319.0" rx="3.45" ry="3.1"/><ellipse cx="430.6" cy="310.4" rx="3.45" ry="3.1"/><ellipse cx="437.0" cy="312.4" rx="3.45" ry="3.1"/><ellipse cx="439.0" cy="316.4" rx="3.45" ry="3.1"/><ellipse cx="442.6" cy="323.6" rx="3.45" ry="3.1"/><ellipse cx="453.6" cy="322.4" rx="3.45" ry="3.1"/><ellipse cx="435.0" cy="326.4" rx="3.45" ry="3.1"/><ellipse cx="431.0" cy="328.4" rx="3.45" ry="3.1"/><ellipse cx="421.0" cy="329.0" rx="3.45" ry="3.1"/><ellipse cx="477.6" cy="319.0" rx="3.45" ry="3.1"/><ellipse cx="477.6" cy="323.0" rx="3.45" ry="3.1"/><ellipse cx="510.0" cy="320.0" rx="3.45" ry="3.1"/><ellipse cx="509.0" cy="324.4" rx="3.45" ry="3.1"/><ellipse cx="422.0" cy="340.4" rx="3.45" ry="3.1"/><ellipse cx="453.0" cy="340.0" rx="3.45" ry="3.1"/><ellipse cx="459.0" cy="338.0" rx="3.45" ry="3.1"/><ellipse cx="491.0" cy="341.4" rx="3.45" ry="3.1"/><ellipse cx="504.6" cy="341.0" rx="3.45" ry="3.1"/><ellipse cx="537.0" cy="334.0" rx="3.45" ry="3.1"/><ellipse cx="534.6" cy="343.0" rx="3.45" ry="3.1"/><ellipse cx="472.0" cy="349.0" rx="3.45" ry="3.1"/><ellipse cx="423.4" cy="354.4" rx="3.45" ry="3.1"/><ellipse cx="494.0" cy="354.0" rx="3.45" ry="3.1"/><ellipse cx="491.0" cy="360.4" rx="3.45" ry="3.1"/><ellipse cx="500.6" cy="361.6" rx="3.45" ry="3.1"/><ellipse cx="529.0" cy="355.0" rx="3.45" ry="3.1"/><ellipse cx="535.0" cy="355.6" rx="3.45" ry="3.1"/><ellipse cx="536.0" cy="357.6" rx="3.45" ry="3.1"/><ellipse cx="412.6" cy="365.0" rx="3.45" ry="3.1"/><ellipse cx="437.0" cy="364.0" rx="3.45" ry="3.1"/><ellipse cx="448.0" cy="365.0" rx="3.45" ry="3.1"/><ellipse cx="453.6" cy="370.6" rx="3.45" ry="3.1"/><ellipse cx="472.0" cy="369.0" rx="3.45" ry="3.1"/><ellipse cx="488.6" cy="373.0" rx="3.45" ry="3.1"/><ellipse cx="506.0" cy="370.4" rx="3.45" ry="3.1"/><ellipse cx="434.6" cy="384.0" rx="3.45" ry="3.1"/><ellipse cx="480.0" cy="386.0" rx="3.45" ry="3.1"/><ellipse cx="386.0" cy="380.4" rx="3.45" ry="3.1"/><ellipse cx="383.0" cy="384.4" rx="3.45" ry="3.1"/><ellipse cx="450.6" cy="394.6" rx="3.45" ry="3.1"/><ellipse cx="553.0" cy="371.4" rx="3.45" ry="3.1"/><ellipse cx="545.0" cy="380.4" rx="3.45" ry="3.1"/><ellipse cx="583.0" cy="390.0" rx="3.45" ry="3.1"/><ellipse cx="595.0" cy="385.6" rx="3.45" ry="3.1"/><ellipse cx="585.5" cy="283.8" rx="3.45" ry="3.1"/><ellipse cx="591.2" cy="288.6" rx="3.45" ry="3.1"/><ellipse cx="617.9" cy="285.2" rx="3.45" ry="3.1"/><ellipse cx="561.2" cy="293.7" rx="3.45" ry="3.1"/><ellipse cx="585.5" cy="302.2" rx="3.45" ry="3.1"/><ellipse cx="569.6" cy="309.2" rx="3.45" ry="3.1"/><ellipse cx="564.3" cy="320.8" rx="3.45" ry="3.1"/><ellipse cx="585.5" cy="324.6" rx="3.45" ry="3.1"/><ellipse cx="604.6" cy="323.3" rx="3.45" ry="3.1"/><ellipse cx="558.6" cy="330.8" rx="3.45" ry="3.1"/><ellipse cx="582.8" cy="332.4" rx="3.45" ry="3.1"/><ellipse cx="590.8" cy="331.0" rx="3.45" ry="3.1"/><ellipse cx="620.4" cy="331.8" rx="3.45" ry="3.1"/><ellipse cx="628.9" cy="328.8" rx="3.45" ry="3.1"/><ellipse cx="637.0" cy="334.6" rx="3.45" ry="3.1"/><ellipse cx="639.5" cy="338.8" rx="3.45" ry="3.1"/><ellipse cx="589.7" cy="339.9" rx="3.45" ry="3.1"/><ellipse cx="591.2" cy="344.5" rx="3.45" ry="3.1"/><ellipse cx="563.7" cy="343.7" rx="3.45" ry="3.1"/><ellipse cx="601.8" cy="351.5" rx="3.45" ry="3.1"/><ellipse cx="607.3" cy="354.7" rx="3.45" ry="3.1"/><ellipse cx="630.0" cy="352.1" rx="3.45" ry="3.1"/><ellipse cx="631.4" cy="354.7" rx="3.45" ry="3.1"/><ellipse cx="639.5" cy="349.4" rx="3.45" ry="3.1"/><ellipse cx="663.8" cy="345.1" rx="3.45" ry="3.1"/><ellipse cx="663.8" cy="348.3" rx="3.45" ry="3.1"/><ellipse cx="604.6" cy="362.5" rx="3.45" ry="3.1"/><ellipse cx="639.5" cy="367.8" rx="3.45" ry="3.1"/><ellipse cx="617.3" cy="370.6" rx="3.45" ry="3.1"/><ellipse cx="621.5" cy="369.5" rx="3.45" ry="3.1"/><ellipse cx="637.0" cy="380.5" rx="3.45" ry="3.1"/><ellipse cx="572.2" cy="229.2" rx="3.45" ry="3.1"/><ellipse cx="637.8" cy="233.0" rx="3.45" ry="3.1"/><ellipse cx="590.8" cy="242.5" rx="3.45" ry="3.1"/><ellipse cx="418.7" cy="249.8" rx="3.45" ry="3.1"/><ellipse cx="612.6" cy="386.8" rx="3.45" ry="3.1"/><ellipse cx="644.9" cy="389.7" rx="3.45" ry="3.1"/><ellipse cx="683.5" cy="388.3" rx="3.45" ry="3.1"/></g>
</g>
<path d="M66.5 8.2V474.5H682" fill="none" stroke="#6a6a6a" stroke-width="1.2"/>
<path d="M58.5 474.2H66.5 M58.5 431.3H66.5 M58.5 388.5H66.5 M58.5 345.6H66.5 M58.5 302.7H66.5 M58.5 259.8H66.5 M58.5 216.9H66.5 M58.5 174.0H66.5 M58.5 131.1H66.5 M58.5 88.3H66.5 M58.5 45.4H66.5 M62.5 452.8H66.5 M62.5 409.9H66.5 M62.5 367.0H66.5 M62.5 324.1H66.5 M62.5 281.2H66.5 M62.5 238.4H66.5 M62.5 195.5H66.5 M62.5 152.6H66.5 M62.5 109.7H66.5 M62.5 66.8H66.5 M62.5 23.9H66.5 M127.3 474.5V481.5 M262.5 474.5V481.5 M397.7 474.5V481.5 M532.9 474.5V481.5 M668.1 474.5V481.5 M194.9 474.5V477.5 M330.1 474.5V477.5 M465.3 474.5V477.5 M600.5 474.5V477.5" stroke="#6e6e6e" stroke-width="1.2"/>
<path d="M58.5 216.6H69.2" stroke="#383838" stroke-width="1.6"/>
<g transform="translate(54.80,479.22) scale(1.13,1.01)"><text x="0" y="0" font-size="13.7" text-anchor="end" font-weight="normal" fill="#1e1e1e" stroke="#1e1e1e" stroke-width="0.45">-5</text></g><g transform="translate(54.80,436.34) scale(1.13,1.01)"><text x="0" y="0" font-size="13.7" text-anchor="end" font-weight="normal" fill="#1e1e1e" stroke="#1e1e1e" stroke-width="0.45">0</text></g><g transform="translate(54.80,393.45) scale(1.13,1.01)"><text x="0" y="0" font-size="13.7" text-anchor="end" font-weight="normal" fill="#1e1e1e" stroke="#1e1e1e" stroke-width="0.45">5</text></g><g transform="translate(54.80,350.57) scale(1.13,1.01)"><text x="0" y="0" font-size="13.7" text-anchor="end" font-weight="normal" fill="#1e1e1e" stroke="#1e1e1e" stroke-width="0.45">10</text></g><g transform="translate(54.80,307.68) scale(1.13,1.01)"><text x="0" y="0" font-size="13.7" text-anchor="end" font-weight="normal" fill="#1e1e1e" stroke="#1e1e1e" stroke-width="0.45">15</text></g><g transform="translate(54.80,264.80) scale(1.13,1.01)"><text x="0" y="0" font-size="13.7" text-anchor="end" font-weight="normal" fill="#1e1e1e" stroke="#1e1e1e" stroke-width="0.45">20</text></g><g transform="translate(54.80,221.91) scale(1.13,1.01)"><text x="0" y="0" font-size="13.7" text-anchor="end" font-weight="normal" fill="#1e1e1e" stroke="#1e1e1e" stroke-width="0.45">25</text></g><g transform="translate(54.80,179.03) scale(1.13,1.01)"><text x="0" y="0" font-size="13.7" text-anchor="end" font-weight="normal" fill="#1e1e1e" stroke="#1e1e1e" stroke-width="0.45">30</text></g><g transform="translate(54.80,136.14) scale(1.13,1.01)"><text x="0" y="0" font-size="13.7" text-anchor="end" font-weight="normal" fill="#1e1e1e" stroke="#1e1e1e" stroke-width="0.45">35</text></g><g transform="translate(54.80,93.26) scale(1.13,1.01)"><text x="0" y="0" font-size="13.7" text-anchor="end" font-weight="normal" fill="#1e1e1e" stroke="#1e1e1e" stroke-width="0.45">40</text></g><g transform="translate(54.80,50.37) scale(1.13,1.01)"><text x="0" y="0" font-size="13.7" text-anchor="end" font-weight="normal" fill="#1e1e1e" stroke="#1e1e1e" stroke-width="0.45">45</text></g><g transform="translate(126.33,495.80) scale(1.13,1.02)"><text x="0" y="0" font-size="13.7" text-anchor="middle" font-weight="normal" fill="#1e1e1e" stroke="#1e1e1e" stroke-width="0.45">-25</text></g><g transform="translate(261.53,495.80) scale(1.13,1.02)"><text x="0" y="0" font-size="13.7" text-anchor="middle" font-weight="normal" fill="#1e1e1e" stroke="#1e1e1e" stroke-width="0.45">-20</text></g><g transform="translate(396.73,495.80) scale(1.13,1.02)"><text x="0" y="0" font-size="13.7" text-anchor="middle" font-weight="normal" fill="#1e1e1e" stroke="#1e1e1e" stroke-width="0.45">-15</text></g><g transform="translate(531.93,495.80) scale(1.13,1.02)"><text x="0" y="0" font-size="13.7" text-anchor="middle" font-weight="normal" fill="#1e1e1e" stroke="#1e1e1e" stroke-width="0.45">-10</text></g><g transform="translate(667.13,495.80) scale(1.13,1.02)"><text x="0" y="0" font-size="13.7" text-anchor="middle" font-weight="normal" fill="#1e1e1e" stroke="#1e1e1e" stroke-width="0.45">-5</text></g>
<g transform="translate(330.20,522.70) scale(1,0.9)"><text x="0" y="0" font-size="21.8" text-anchor="start" font-weight="normal" fill="#111" textLength="79.5" lengthAdjust="spacingAndGlyphs" stroke="#111" stroke-width="0.3">GLS (%)</text></g>
<g transform="translate(20.6,280.5) rotate(-90) scale(0.876,1)"><text x="0" y="0" font-size="23.2" fill="#111" stroke="#111" stroke-width="0.3" textLength="89.6" lengthAdjust="spacingAndGlyphs">PALS (%)</text></g>
<rect x="94.5" y="35.4" width="115.2" height="65.5" fill="#d98cf5"/><g transform="translate(104.70,53.90) scale(1,0.92)"><text x="0" y="0" font-size="15.3" text-anchor="start" font-weight="bold" fill="#111" textLength="76.5" lengthAdjust="spacingAndGlyphs" stroke="#111" stroke-width="0.4">HIGH PALS</text></g><g transform="translate(104.70,72.90) scale(1,0.92)"><text x="0" y="0" font-size="15.3" text-anchor="start" font-weight="bold" fill="#111" textLength="90.5" lengthAdjust="spacingAndGlyphs" stroke="#111" stroke-width="0.4">HIGH LV-GLS</text></g><g transform="translate(104.70,91.90) scale(1,0.92)"><text x="0" y="0" font-size="15.3" text-anchor="start" font-weight="bold" fill="#111" textLength="91" lengthAdjust="spacingAndGlyphs" stroke="#111" stroke-width="0.4">n=276 (37%)</text></g>
<rect x="527.2" y="35" width="108.6" height="66" fill="#7fc851"/><g transform="translate(537.00,53.70) scale(1,0.92)"><text x="0" y="0" font-size="15.3" text-anchor="start" font-weight="bold" fill="#111" textLength="76.5" lengthAdjust="spacingAndGlyphs" stroke="#111" stroke-width="0.4">HIGH PALS</text></g><g transform="translate(537.00,72.70) scale(1,0.92)"><text x="0" y="0" font-size="15.3" text-anchor="start" font-weight="bold" fill="#111" textLength="87.5" lengthAdjust="spacingAndGlyphs" stroke="#111" stroke-width="0.4">LOW LV-GLS</text></g><g transform="translate(537.00,91.70) scale(1,0.92)"><text x="0" y="0" font-size="15.3" text-anchor="start" font-weight="bold" fill="#111" textLength="82" lengthAdjust="spacingAndGlyphs" stroke="#111" stroke-width="0.4">n=77 (10%)</text></g>
<rect x="94.5" y="392.4" width="115.4" height="66" fill="#f4807a"/><g transform="translate(104.70,411.40) scale(1,0.92)"><text x="0" y="0" font-size="15.3" text-anchor="start" font-weight="bold" fill="#111" textLength="73.5" lengthAdjust="spacingAndGlyphs" stroke="#111" stroke-width="0.4">LOW PALS</text></g><g transform="translate(104.70,430.40) scale(1,0.92)"><text x="0" y="0" font-size="15.3" text-anchor="start" font-weight="bold" fill="#111" textLength="90.5" lengthAdjust="spacingAndGlyphs" stroke="#111" stroke-width="0.4">HIGH LV-GLS</text></g><g transform="translate(104.70,449.40) scale(1,0.92)"><text x="0" y="0" font-size="15.3" text-anchor="start" font-weight="bold" fill="#111" textLength="91" lengthAdjust="spacingAndGlyphs" stroke="#111" stroke-width="0.4">n=155 (21%)</text></g>
<rect x="527.2" y="392.4" width="112.6" height="66" fill="#a2c4ec"/><g transform="translate(537.00,411.40) scale(1,0.92)"><text x="0" y="0" font-size="15.3" text-anchor="start" font-weight="bold" fill="#111" textLength="73.5" lengthAdjust="spacingAndGlyphs" stroke="#111" stroke-width="0.4">LOW PALS</text></g><g transform="translate(537.00,430.40) scale(1,0.92)"><text x="0" y="0" font-size="15.3" text-anchor="start" font-weight="bold" fill="#111" textLength="87.5" lengthAdjust="spacingAndGlyphs" stroke="#111" stroke-width="0.4">LOW LV-GLS</text></g><g transform="translate(537.00,449.40) scale(1,0.92)"><text x="0" y="0" font-size="15.3" text-anchor="start" font-weight="bold" fill="#111" textLength="91" lengthAdjust="spacingAndGlyphs" stroke="#111" stroke-width="0.4">n=237 (32%)</text></g>
</svg>
</body></html>
